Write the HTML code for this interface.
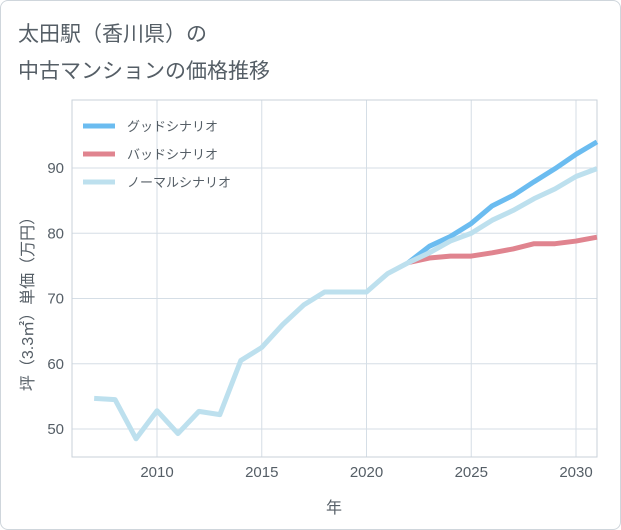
<!DOCTYPE html>
<html><head><meta charset="utf-8">
<style>
html,body{margin:0;padding:0;background:#fff;}
body{width:621px;height:530px;overflow:hidden;font-family:"Liberation Sans","Noto Sans CJK JP",sans-serif;}
#frame{position:absolute;left:0;top:0;width:619px;height:528px;border:1px solid #cfd6dc;border-radius:8px;}
.title{position:absolute;left:18px;font-size:21px;color:#555e66;}
</style></head><body>
<div id="frame"></div>
<div class="title" style="top:18px">太田駅（香川県）の</div>
<div class="title" style="top:55px">中古マンションの価格推移</div>
<svg id="chart" width="621" height="530" style="position:absolute;left:0;top:0"></svg>
<script>
const years=[2007,2008,2009,2010,2011,2012,2013,2014,2015,2016,2017,2018,2019,2020,2021,2022,2023,2024,2025,2026,2027,2028,2029,2030,2031];
const normalVals=[54.7,54.5,48.5,52.8,49.3,52.7,52.2,60.5,62.5,66,69,71,71,71,73.8,75.5,77,78.8,80,82,83.5,85.3,86.8,88.7,89.9];
const goodYears=[2022,2023,2024,2025,2026,2027,2028,2029,2030,2031];
const goodVals=[75.5,78,79.5,81.5,84.2,85.8,87.9,89.9,92.1,94];
const badVals=[75.5,76.2,76.5,76.5,77,77.6,78.4,78.4,78.8,79.4];
const xTicks=[2010,2015,2020,2025,2030];
const yTicks=[50,60,70,80,90];
const NS="http://www.w3.org/2000/svg";
const svg=document.getElementById('chart');
const L=72,R=597,T=100,B=457;
function xs(y){return 157+(y-2010)*(576-157)/20;}
function ys(v){return 429-(v-50)*(429-168)/40;}
function mk(tag,attrs,parent){const e=document.createElementNS(NS,tag);for(const k in attrs)e.setAttribute(k,attrs[k]);(parent||svg).appendChild(e);return e;}
const grid=mk('g',{});


xTicks.forEach(t=>{mk('line',{x1:xs(t),x2:xs(t),y1:T,y2:B,stroke:'#d5dee6','stroke-width':1},grid);
 const tx=mk('text',{x:xs(t),y:477,'text-anchor':'middle','font-size':15,fill:'#555e66'});tx.textContent=t;
 
 });
yTicks.forEach(t=>{mk('line',{x1:L,x2:R,y1:ys(t),y2:ys(t),stroke:'#d5dee6','stroke-width':1},grid);
 const tx=mk('text',{x:64,y:ys(t)+5,'text-anchor':'end','font-size':15,fill:'#555e66'});tx.textContent=t;
 
 });
mk('rect',{x:L,y:T,width:R-L,height:B-T,fill:'none',stroke:'#c9d2da'},grid);
const xt=mk('text',{x:334,y:513,'text-anchor':'middle','font-size':16,fill:'#555e66'});xt.textContent='年';


const yt=mk('text',{x:0,y:0,'text-anchor':'middle','font-size':16,fill:'#555e66',transform:'translate(33,300) rotate(-90)'});yt.textContent='坪（3.3㎡）単価（万円）';


function line(xv,vals,color,name){const p=mk('polyline',{points:xv.map((y,i)=>xs(y)+','+ys(vals[i])).join(' '),fill:'none',stroke:color,'stroke-width':5,'stroke-linejoin':'round'});
 
 }
const clip=mk('clipPath',{id:'c'});mk('rect',{x:L,y:T,width:R-L,height:B-T},clip);
line(goodYears,goodVals,'#6bbcf0','good-scenario-line');
line(goodYears,badVals,'#e0848f','bad-scenario-line');
line(years,normalVals,'#bde0ee','normal-scenario-line');
const legend=[['グッドシナリオ','#6bbcf0',126],['バッドシナリオ','#e0848f',154],['ノーマルシナリオ','#bde0ee',182]];
legend.forEach(l=>{const g=mk('g',{});
 
 
 mk('line',{x1:83,x2:115,y1:l[2],y2:l[2],stroke:l[1],'stroke-width':5},g);
 const t=mk('text',{x:127,y:l[2]+5,'font-size':13,fill:'#555e66'},g);t.textContent=l[0];});
</script>
</body></html>
